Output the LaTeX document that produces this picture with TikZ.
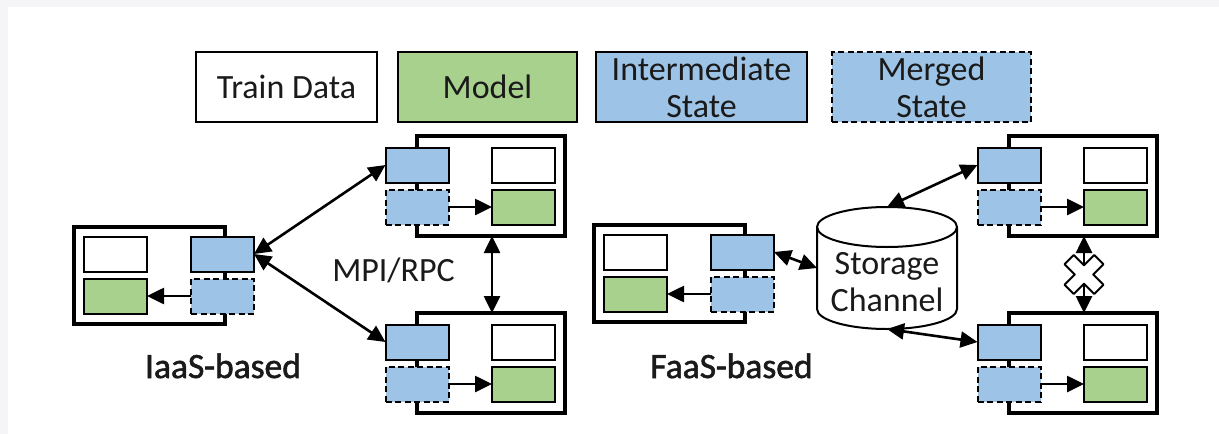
\documentclass[tikz,border=0pt]{standalone}
\usepackage{fontspec}
\setmainfont{Carlito}
\newfontfamily\headfont[FakeBold=1.6]{Carlito}
\usetikzlibrary{arrows.meta}
\definecolor{stateblue}{HTML}{9DC3E6}
\definecolor{modelgreen}{HTML}{A9D18E}
\definecolor{pagegray}{HTML}{F5F5F7}
\definecolor{ink}{HTML}{1A1A1A}

\begin{document}
\begin{tikzpicture}[x=1pt,y=-1pt,
  every node/.style={inner sep=0pt, outer sep=0pt},
  box/.style={draw=black, line width=2pt, minimum width=63pt, minimum height=35pt},
  databox/.style={box, fill=white},
  modelbox/.style={box, fill=modelgreen},
  interbox/.style={box, fill=stateblue},
  mergedbox/.style={box, fill=stateblue, dash pattern=on 6pt off 3.5pt},
  frame/.style={draw=black, line width=3.8pt, fill=white, anchor=north west},
  flow/.style={line width=2.6pt, -{Triangle[length=17pt,width=16pt]}},
  link/.style={line width=2.6pt, {Triangle[length=17pt,width=16pt]}-{Triangle[length=17pt,width=16pt]}},
  legendbox/.style={draw=black, line width=2pt, minimum height=70pt, align=center,
    font=\fontsize{34}{37}\selectfont, text=ink},
  caption/.style={font=\fontsize{34}{37}\selectfont, text=ink, align=center},
  heading/.style={font=\fontsize{35.5}{38}\headfont, text=ink},
  % worker with its state boxes on the right edge
  pics/stateright/.style={code={
    \node[frame, minimum width=151pt, minimum height=97pt] (-frame) at (0,0) {};
    \node[databox]   (-data)   at (41.5,27) {};
    \node[modelbox]  (-model)  at (41.5,69) {};
    \node[interbox]  (-inter)  at (148.5,27) {};
    \node[mergedbox] (-merged) at (148.5,69) {};
    \draw[flow] (-merged) -- (-model);
  }},
  % worker with its state boxes on the left edge
  pics/stateleft/.style={code={
    \node[frame, minimum width=148pt, minimum height=100pt] (-frame) at (0,0) {};
    \node[interbox]  (-inter)  at (0,29) {};
    \node[mergedbox] (-merged) at (0,71) {};
    \node[databox]   (-data)   at (106.5,29) {};
    \node[modelbox]  (-model)  at (106.5,71) {};
    \draw[flow] (-merged) -- (-model);
  }},
]
\useasboundingbox (0,0) rectangle (1219,434);
\fill[pagegray] (0,0) rectangle (1219,434);
\fill[white] (8,7) rectangle (1219,434);

% legend
\node[legendbox, fill=white,       minimum width=181pt] (lgdata)   at (286.5,87) {Train Data};
\node[legendbox, fill=modelgreen,  minimum width=179pt] (lgmodel)  at (487.5,87) {Model};
\node[legendbox, fill=stateblue,   minimum width=211pt] (lginter)  at (701.5,87) {Intermediate\\State};
\node[legendbox, fill=stateblue, dash pattern=on 6pt off 3.5pt, minimum width=199pt] (lgmerged) at (931.5,87) {Merged\\State};

% IaaS-based training
\pic (il)  at (74,227)  {stateright};
\pic (itr) at (417,136) {stateleft};
\pic (ibr) at (417,313) {stateleft};
\draw[link] (il-inter.east) -- (itr-inter.west);
\draw[link] (il-inter.east) -- (ibr-inter.west);
\draw[link] (itr-frame.south -| itr-data.west) -- (ibr-frame.north -| itr-data.west);
\node[caption, anchor=base] (mpi) at (393.5,281) {MPI/RPC};
\node[heading, anchor=base] (iaas) at (223,378) {IaaS-based};

% FaaS-based training
\pic (fl)  at (594,225)  {stateright};
\pic (ftr) at (1009,136) {stateleft};
\pic (fbr) at (1009,313) {stateleft};

\node[minimum width=140pt, minimum height=122pt] (store) at (887,268) {};
\draw[line width=2pt, fill=white]
  (817,227) -- (817,309) arc[start angle=180, end angle=360, x radius=70pt, y radius=20pt]
  -- (957,227) arc[start angle=0, end angle=180, x radius=70pt, y radius=20pt] -- cycle;
\draw[line width=2pt] (817,227) arc[start angle=180, end angle=360, x radius=70pt, y radius=20pt];
\node[caption] (storelabel) at (887,282) {Storage\\Channel};

\draw[link] (fl-inter.east) -- (store.west);
\draw[link] (store.north) -- (ftr-inter.west);
\draw[link] (store.south) -- (fbr-inter.west);
\draw[link] (ftr-frame.south -| ftr-data.west) -- coordinate[midway] (ban) (fbr-frame.north -| ftr-data.west);
\begin{scope}[shift={(ban)}, rotate=45]
  \draw[line width=2pt, fill=white, line join=round]
    (6.5,21) -- (6.5,6.5) -- (21,6.5) -- (21,-6.5) -- (6.5,-6.5) -- (6.5,-21)
    -- (-6.5,-21) -- (-6.5,-6.5) -- (-21,-6.5) -- (-21,6.5) -- (-6.5,6.5) -- (-6.5,21) -- cycle;
\end{scope}
\node[heading, anchor=base] (faas) at (731.5,378) {FaaS-based};
\end{tikzpicture}
\end{document}
